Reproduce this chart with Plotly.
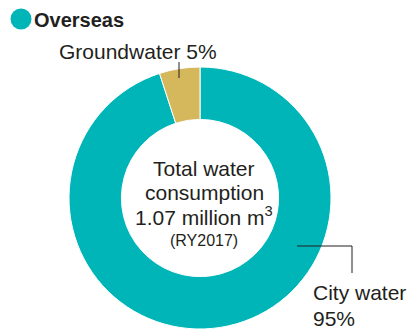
import plotly.graph_objects as go

# data
sources = ['City water', 'Groundwater']
shares = [95, 5]
colors = ['#00b5b8', '#d4b85b']
title = 'Overseas'
center_lines = ['Total water', 'consumption', '1.07 million m<sup>3</sup>', '(RY2017)']

W, H = 409, 329
INK = '#231f20'
FONT = 'Liberation Sans, Arial, Helvetica, sans-serif'


def px(x):
    return x / W


def py(y):
    return 1 - y / H


fig = go.Figure()

# donut: center ~(200, 198), radius ~131; city water runs clockwise from 12 o'clock
fig.add_trace(go.Pie(
    labels=sources,
    values=shares,
    hole=0.6,
    sort=False,
    direction='clockwise',
    rotation=0,
    marker=dict(colors=colors, line=dict(color='white', width=1)),
    textinfo='none',
    hoverinfo='label+percent',
    domain=dict(x=[px(69), px(331)], y=[0, py(67)]),
    showlegend=False,
))

annotations = []

# title with dot
annotations.append(dict(
    x=px(32), y=py(20), xref='paper', yref='paper', xanchor='left', yanchor='middle',
    text='<b>' + title + '</b>', showarrow=False, font=dict(size=20, color=INK, family=FONT),
))

# center text
center_y = [168, 192, 216, 240]
center_size = [21, 21, 21, 16]
for line, cy, fs in zip(center_lines, center_y, center_size):
    annotations.append(dict(
        x=px(204), y=py(cy), xref='paper', yref='paper', xanchor='center', yanchor='middle',
        text=line, showarrow=False, font=dict(size=fs, color=INK, family=FONT),
    ))

# slice labels
annotations.append(dict(
    x=px(57), y=py(51), xref='paper', yref='paper', xanchor='left', yanchor='middle',
    text=f'{sources[1]} {shares[1]}%', showarrow=False, font=dict(size=21, color=INK, family=FONT),
))
annotations.append(dict(
    x=px(311), y=py(292), xref='paper', yref='paper', xanchor='left', yanchor='middle',
    text=sources[0], showarrow=False, font=dict(size=21, color=INK, family=FONT),
))
annotations.append(dict(
    x=px(311), y=py(318), xref='paper', yref='paper', xanchor='left', yanchor='middle',
    text=f'{shares[0]}%', showarrow=False, font=dict(size=21, color=INK, family=FONT),
))

shapes = [
    # title dot
    dict(type='circle', xref='paper', yref='paper',
         x0=px(10.5), x1=px(31.5), y0=py(29.5), y1=py(8.5),
         fillcolor=colors[0], line=dict(width=0)),
    # leader lines
    dict(type='line', xref='paper', yref='paper',
         x0=px(179), x1=px(179), y0=py(62), y1=py(78), line=dict(color=INK, width=1)),
    dict(type='line', xref='paper', yref='paper',
         x0=px(297), x1=px(352), y0=py(246), y1=py(246), line=dict(color=INK, width=1)),
    dict(type='line', xref='paper', yref='paper',
         x0=px(352), x1=px(352), y0=py(246), y1=py(273), line=dict(color=INK, width=1)),
]

fig.update_layout(
    width=W,
    height=H,
    margin=dict(l=0, r=0, t=0, b=0),
    paper_bgcolor='white',
    plot_bgcolor='white',
    annotations=annotations,
    shapes=shapes,
    font=dict(family=FONT, color=INK),
)

# drop the default body margin so the figure sits flush in the window
fig.write_html('out.html', config={'displayModeBar': False},
               post_script="document.body.style.margin='0';")
